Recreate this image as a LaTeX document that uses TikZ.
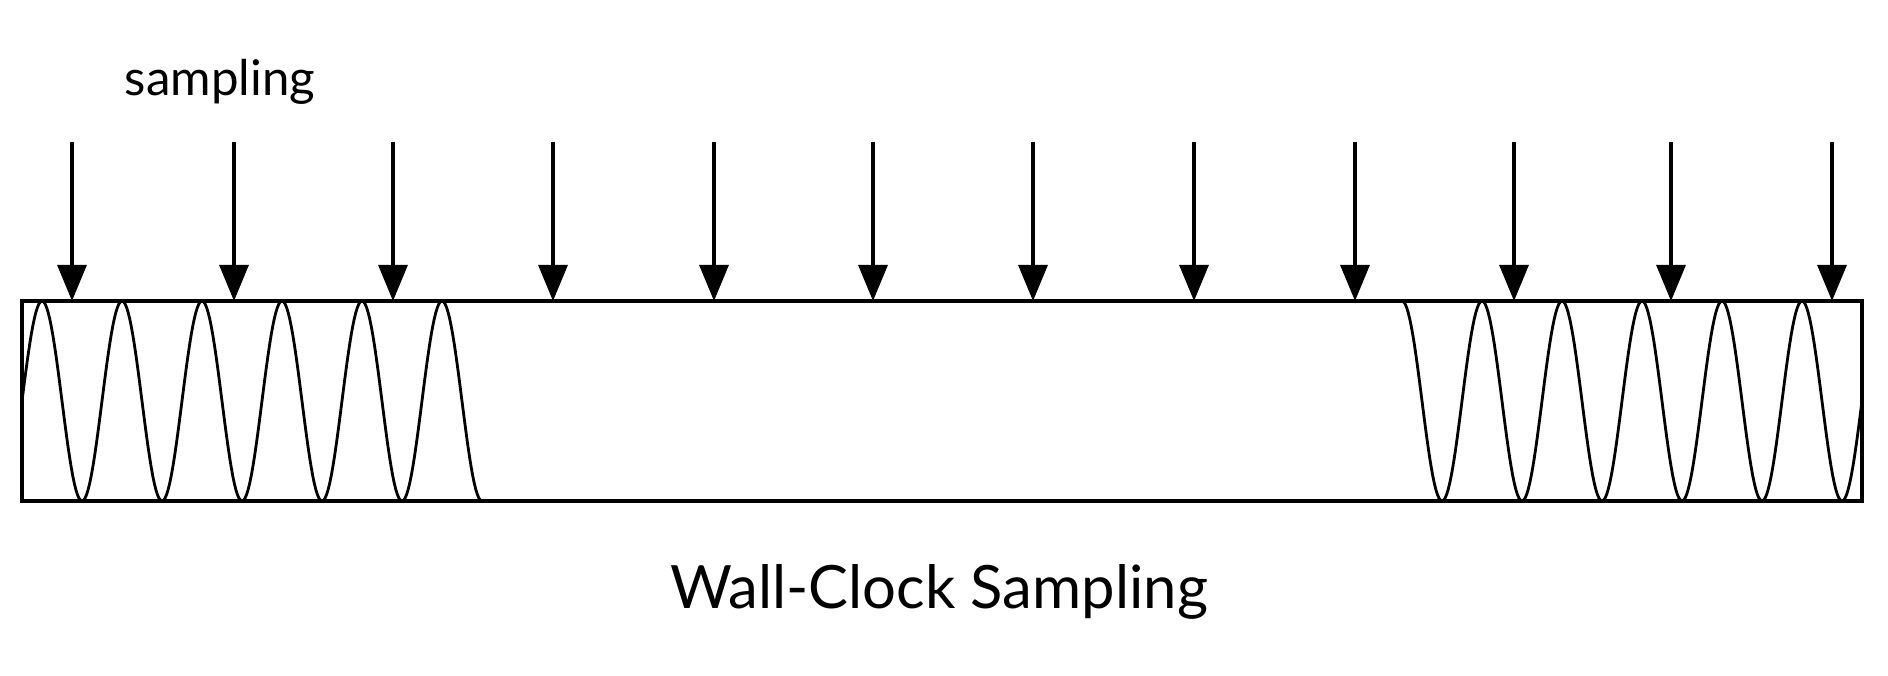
\documentclass[tikz,border=0pt]{standalone}
\usepackage{fontspec}
\setmainfont{Lato}
\usetikzlibrary{arrows.meta}
\tikzset{
  probe/.style={-{Triangle[length=0.36cm,width=0.29cm]}, line width=0.9pt},
  frame/.style={draw, line width=0.9pt},
  wave/.style={line width=0.8pt}
}
\begin{document}
\begin{tikzpicture}
  \useasboundingbox (0,0) rectangle (18.88,-6.76);
  \draw[frame] (0.22,-3.01) rectangle (18.62,-5.01);

  \node (lbl) at (2.2,-0.82) {\fontsize{14}{16}\selectfont sampling};
  \node (title) at (9.39,-5.92) {\fontsize{17}{20}\selectfont Wall-Clock Sampling};

  \foreach \x [count=\i] in {0.72,2.34,3.93,5.53,7.14,8.73,10.33,11.94,13.55,15.14,16.71,18.32} {
    \coordinate (top\i) at (\x,-1.42);
    \coordinate (tip\i) at (\x,-3.01);
    \draw[probe] (top\i) -- (tip\i);
  }

  \draw[wave, domain=0.22:4.82, samples=300] plot (\x, {-4.01+sin(360*(\x-0.22)/0.8 r*0+ 360*(\x-0.22)/0.8)});
  \draw[wave, domain=14.02:18.62, samples=300] plot (\x, {-4.01+cos(360*(\x-14.02)/0.8)});
\end{tikzpicture}
\end{document}
